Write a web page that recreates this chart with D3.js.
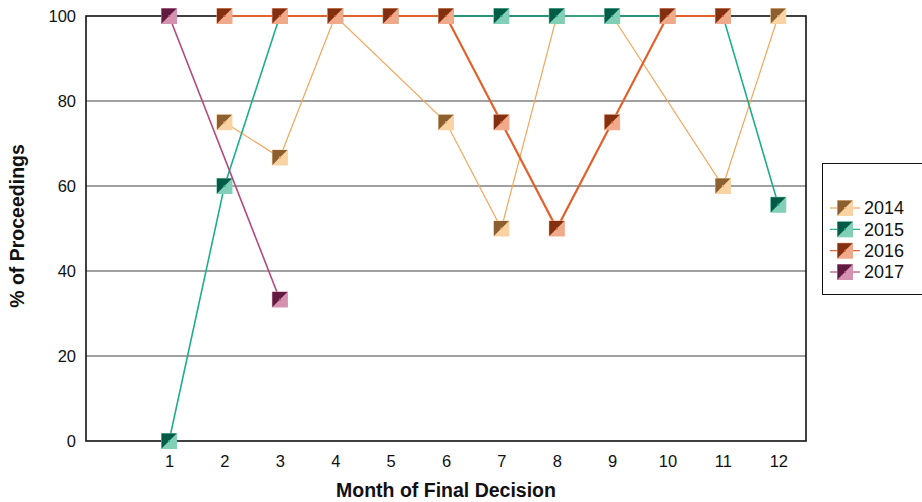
<!DOCTYPE html>
<html><head><meta charset="utf-8">
<script src="https://cdn.jsdelivr.net/npm/d3@7"></script>
<style>body{margin:0;background:#fff}svg{display:block;font-family:"Liberation Sans",Arial,sans-serif}</style>
</head><body>
<svg id="c" width="922" height="502"></svg>
<script>
const months = [1,2,3,4,5,6,7,8,9,10,11,12];
const years = ["2014","2015","2016","2017"];
const s2014 = [null,75,66.7,100,null,75,50,100,100,null,60,100];
const s2015 = [0,60,100,100,100,100,100,100,100,100,100,55.6];
const s2016 = [null,100,100,100,100,100,75,50,75,100,100,null];
const s2017 = [100,null,33.3,null,null,null,null,null,null,null,null,null];
const yTicks = [0,20,40,60,80,100];

const styles = {
  "2014": {dark:"#8c5f30", light:"#f9d3a4", line:"#f4a65c", w:1.2},
  "2015": {dark:"#005c47", light:"#80cfb6", line:"#1fae8b", w:1.6},
  "2016": {dark:"#82300f", light:"#f0a98a", line:"#e2602a", w:2.2},
  "2017": {dark:"#611a40", light:"#d491b0", line:"#b34a7b", w:1.6}
};
const seriesVals = {"2014":s2014,"2015":s2015,"2016":s2016,"2017":s2017};

const svg = d3.select("#c");
const L=86,R=806,T=16,B=441;
const x = d3.scaleLinear().domain([-0.5,12.5]).range([L,R]);
const y = d3.scaleLinear().domain([0,100]).range([B,T]);

svg.append("g").selectAll("line").data(yTicks.filter(d=>d>0&&d<100)).join("line")
  .attr("x1",L).attr("x2",R).attr("y1",d=>y(d)).attr("y2",d=>y(d))
  .attr("stroke","#808080").attr("stroke-width",1.5);

svg.append("rect").attr("x",L).attr("y",T).attr("width",R-L).attr("height",B-T)
  .attr("fill","none").attr("stroke","#111").attr("stroke-width",1.6);

const yAxis = d3.axisLeft(y).tickValues(yTicks).tickSize(0).tickPadding(10);
const gy = svg.append("g").attr("transform",`translate(${L},0)`).call(yAxis);
gy.select(".domain").remove();
gy.selectAll("text").attr("font-size",16.5).attr("fill","#111").attr("font-family","Liberation Sans, Arial, sans-serif");

const xAxis = d3.axisBottom(x).tickValues(months).tickSize(0).tickPadding(14).tickFormat(d3.format("d"));
const gx = svg.append("g").attr("transform",`translate(0,${B})`).call(xAxis);
gx.select(".domain").remove();
gx.selectAll("text").attr("font-size",16.5).attr("fill","#111").attr("font-family","Liberation Sans, Arial, sans-serif");

svg.append("text").attr("x",(L+R)/2).attr("y",497).attr("text-anchor","middle")
  .attr("font-size",19.5).attr("font-weight","bold").attr("fill","#111").text("Month of Final Decision");
svg.append("text").attr("transform",`translate(24,226) rotate(-90)`).attr("text-anchor","middle")
  .attr("font-size",19.5).attr("font-weight","bold").attr("fill","#111").text("% of Proceedings");

function marker(g, cx, cy, st, s){
  const h=s/2;
  g.append("rect").attr("x",cx-h).attr("y",cy-h).attr("width",s).attr("height",s)
    .attr("fill",st.light).attr("stroke",st.light).attr("stroke-width",1);
  g.append("path").attr("d",`M${cx-h},${cy-h}L${cx+h},${cy-h}L${cx-h},${cy+h}Z`).attr("fill",st.dark);
  g.append("rect").attr("x",cx-1).attr("y",cy-1).attr("width",2).attr("height",2).attr("fill",st.line);
}

const line = d3.line().x(d=>x(d.m)).y(d=>y(d.v));
years.forEach(yr=>{
  const st = styles[yr];
  const pts = months.map((m,i)=>({m, v:seriesVals[yr][i]})).filter(d=>d.v!==null);
  const g = svg.append("g");
  g.append("path").datum(pts).attr("d",line).attr("fill","none")
    .attr("stroke",st.line).attr("stroke-width",st.w);
  pts.forEach(p=>marker(g, x(p.m), y(p.v), st, 15));
});

const lg = svg.append("g");
lg.append("rect").attr("x",822.5).attr("y",163.5).attr("width",110).attr("height",131)
  .attr("fill","#fff").attr("stroke","#111").attr("stroke-width",1);
const ly = d3.scalePoint().domain(years).range([208,272]);
years.forEach(yr=>{
  const st=styles[yr], yy=ly(yr);
  lg.append("line").attr("x1",830).attr("x2",860).attr("y1",yy).attr("y2",yy)
    .attr("stroke",st.line).attr("stroke-width",1.2);
  marker(lg, 845, yy, st, 15);
  lg.append("text").attr("x",864).attr("y",yy).attr("dy","0.36em").attr("font-size",18)
    .attr("fill","#111").text(yr);
});
</script>
</body></html>
